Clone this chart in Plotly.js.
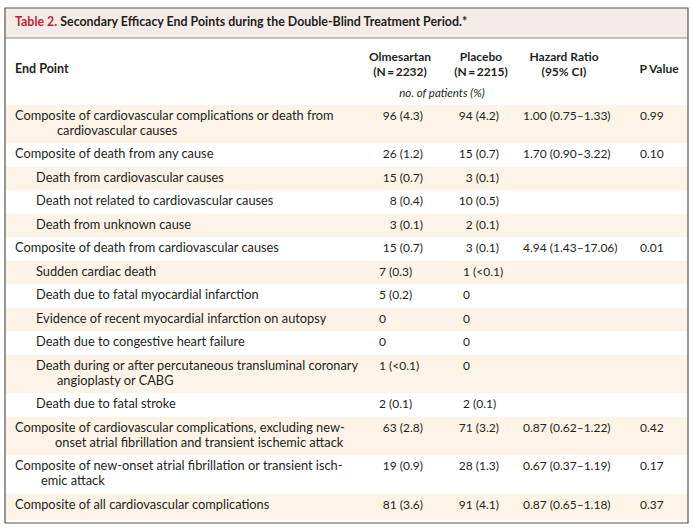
<!DOCTYPE html>
<html>
<head>
<meta charset="utf-8">
<script src="https://cdn.plot.ly/plotly-3.0.1.min.js"></script>
<style>html,body{margin:0;padding:0;background:#fff;}#chart{width:693px;height:530px;}</style>
</head>
<body>
<div id="chart"></div>
<script>
// ---------------- DATA ----------------
const tableLabel = "Table 2.";
const tableTitle = "Secondary Efficacy End Points during the Double-Blind Treatment Period.*";
const headerEndPoint = "End Point";
const headerOlmesartan = "Olmesartan<br>(N\u2009=\u20092232)";
const headerPlacebo = "Placebo<br>(N\u2009=\u20092215)";
const headerHazard = "Hazard Ratio<br>(95% CI)";
const headerP = "P Value";
const unitsLabel = "no. of patients (%)";

const endPoints = [
  "Composite of cardiovascular complications or death from<br>cardiovascular causes",
  "Composite of death from any cause",
  "Death from cardiovascular causes",
  "Death not related to cardiovascular causes",
  "Death from unknown cause",
  "Composite of death from cardiovascular causes",
  "Sudden cardiac death",
  "Death due to fatal myocardial infarction",
  "Evidence of recent myocardial infarction on autopsy",
  "Death due to congestive heart failure",
  "Death during or after percutaneous transluminal coronary<br>angioplasty or CABG",
  "Death due to fatal stroke",
  "Composite of cardiovascular complications, excluding new-<br>onset atrial fibrillation and transient ischemic attack",
  "Composite of new-onset atrial fibrillation or transient isch-<br>emic attack",
  "Composite of all cardiovascular complications"
];
const isSubItem = [false,false,true,true,true,false,true,true,true,true,true,true,false,false,false];
const olmesartan = ["96 (4.3)","26 (1.2)","15 (0.7)","8 (0.4)","3 (0.1)","15 (0.7)","7 (0.3)","5 (0.2)","0","0","1 (&lt;0.1)","2 (0.1)","63 (2.8)","19 (0.9)","81 (3.6)"];
const placebo = ["94 (4.2)","15 (0.7)","3 (0.1)","10 (0.5)","2 (0.1)","3 (0.1)","1 (&lt;0.1)","0","0","0","0","2 (0.1)","71 (3.2)","28 (1.3)","91 (4.1)"];
const hazardRatio = ["1.00 (0.75\u20131.33)","1.70 (0.90\u20133.22)","","","","4.94 (1.43\u201317.06)","","","","","","","0.87 (0.62\u20131.22)","0.67 (0.37\u20131.19)","0.87 (0.65\u20131.18)"];
const pValue = ["0.99","0.10","","","","0.01","","","","","","","0.42","0.17","0.37"];

// ---------------- LAYOUT CONSTANTS ----------------
const W = 693, H = 530;
const BOX = {x0: 5, x1: 688, y0: 8, y1: 523};
const TITLE_BAND_BOTTOM = 38;
const ROWS_TOP = 104.75;
const ROW_H = 23.5, LINE_STEP = 15, FIRST_LINE = 11.75;
const X_TEXT = 15, X_SUB = 36;
const CONT_X = {0: 57, 10: 57, 12: 55, 13: 41};   // continuation-line start (hanging indent)
const LEFT_ALIGNED_ROWS = [6,7,8,9,10,11];
const COL = {
  olmRight: 423, olmLeft: 379, olmCenter: 400,
  plaRight: 499, plaLeft: 463, plaCenter: 481,
  hrLeft: 523, hrCenter: 564,
  pLeft: 640, pCenter: 659
};
const FONT = "Lato, 'Open Sans', sans-serif";
const TXT = "#231f20";
const STRIPE = "#fdf3e6";

// ---------------- GEOMETRY FROM DATA ----------------
const rowTop = [], rowBottom = [];
let cur = ROWS_TOP;
endPoints.forEach(t => {
  const n = t.split("<br>").length;
  rowTop.push(cur);
  cur += ROW_H + (n - 1) * LINE_STEP;
  rowBottom.push(cur);
});
const firstLineY = rowTop.map(t => t + FIRST_LINE);

// end point text, one point per line
const epX = [], epY = [], epT = [];
endPoints.forEach((t, i) => {
  t.split("<br>").forEach((line, j) => {
    epX.push(j === 0 ? (isSubItem[i] ? X_SUB : X_TEXT) : CONT_X[i]);
    epY.push(firstLineY[i] + j * LINE_STEP);
    epT.push(line);
  });
});

function split(values, leftRows) {
  const r = {y: [], t: []}, l = {y: [], t: []};
  values.forEach((v, i) => {
    const tgt = leftRows.includes(i) ? l : r;
    tgt.y.push(firstLineY[i]); tgt.t.push(v);
  });
  return {right: r, left: l};
}
const olm = split(olmesartan, LEFT_ALIGNED_ROWS);
const pla = split(placebo, LEFT_ALIGNED_ROWS);

const baseFont = {family: FONT, size: 12, color: TXT};
function textTrace(x, y, text, pos, font) {
  return {type: "scatter", mode: "text", x: x, y: y, text: text, textposition: pos,
          textfont: Object.assign({}, baseFont, font || {}), hoverinfo: "skip",
          showlegend: false, cliponaxis: false};
}

const traces = [
  textTrace(epX, epY, epT, "middle right", {size: 12.8}),
  textTrace(olm.right.y.map(() => COL.olmRight), olm.right.y, olm.right.t, "middle left"),
  textTrace(olm.left.y.map(() => COL.olmLeft), olm.left.y, olm.left.t, "middle right"),
  textTrace(pla.right.y.map(() => COL.plaRight), pla.right.y, pla.right.t, "middle left"),
  textTrace(pla.left.y.map(() => COL.plaLeft), pla.left.y, pla.left.t, "middle right"),
  textTrace(firstLineY.map(() => COL.hrLeft), firstLineY, hazardRatio, "middle right"),
  textTrace(firstLineY.map(() => COL.pLeft), firstLineY, pValue, "middle right"),
  // headers
  textTrace([X_TEXT], [70], [headerEndPoint], "middle right", {weight: "bold", size: 12.5}),
  textTrace([COL.olmCenter, COL.plaCenter, COL.hrCenter], [65.5, 65.5, 65.5],
            [headerOlmesartan, headerPlacebo, headerHazard], "middle center", {weight: "bold"}),
  textTrace([COL.pCenter], [70], [headerP], "middle center", {weight: "bold"}),
  textTrace([(COL.olmCenter + COL.plaCenter) / 2 + 1.5], [94], [unitsLabel], "middle center", {style: "italic", size: 11.5}),
  // title
  textTrace([X_TEXT], [23], ["<span style='color:#be2238'>" + tableLabel + "</span> " + tableTitle],
            "middle right", {weight: "bold", size: 12.4})
];

const shapes = [];
// title band
shapes.push({type: "rect", xref: "x", yref: "y", x0: BOX.x0, x1: BOX.x1, y0: BOX.y0, y1: TITLE_BAND_BOTTOM,
             fillcolor: "#f4ece8", line: {width: 0}, layer: "below"});
shapes.push({type: "line", xref: "x", yref: "y", x0: BOX.x0, x1: BOX.x1, y0: TITLE_BAND_BOTTOM, y1: TITLE_BAND_BOTTOM,
             line: {color: "#8c8c8c", width: 1}});
// stripes
endPoints.forEach((t, i) => {
  if (i % 2 === 0) {
    shapes.push({type: "rect", xref: "x", yref: "y", x0: BOX.x0, x1: BOX.x1, y0: rowTop[i],
                 y1: i === endPoints.length - 1 ? rowBottom[i] + 2.5 : rowBottom[i],
                 fillcolor: STRIPE, line: {width: 0}, layer: "below"});
  }
});
// outer box
shapes.push({type: "rect", xref: "paper", yref: "paper", x0: 0, x1: 1, y0: 0, y1: 1,
             line: {color: "#555555", width: 1.2}, fillcolor: "rgba(0,0,0,0)"});

const layout = {
  width: W, height: H, autosize: false,
  margin: {l: BOX.x0, r: W - BOX.x1, t: BOX.y0, b: H - BOX.y1, pad: 0},
  paper_bgcolor: "#ffffff", plot_bgcolor: "#ffffff",
  xaxis: {range: [BOX.x0, BOX.x1], visible: false, fixedrange: true},
  yaxis: {range: [BOX.y1, BOX.y0], visible: false, fixedrange: true},
  shapes: shapes,
  showlegend: false,
  hovermode: false
};

Plotly.newPlot("chart", traces, layout, {displayModeBar: false, staticPlot: true});
</script>
</body>
</html>
